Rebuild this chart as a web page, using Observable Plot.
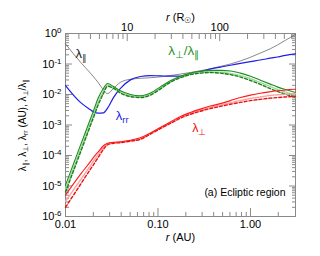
<!DOCTYPE html>
<html><head><meta charset="utf-8">
<script src="https://cdn.jsdelivr.net/npm/d3@7"></script>
<script src="https://cdn.jsdelivr.net/npm/@observablehq/plot@0.6"></script>
<style>
html,body{margin:0;padding:0;background:#fff}
svg{font-family:"Liberation Sans",Arial,Helvetica,sans-serif}
</style>
</head><body><div id="chart"></div>
<script>
// radial distance grid (AU)
const rAU = [0.01, 0.0145, 0.0186, 0.0201, 0.0227, 0.0257, 0.0285, 0.033, 0.0393, 0.0504, 0.0646, 0.0829, 0.106, 0.136, 0.175, 0.224, 0.287, 0.369, 0.473, 0.607, 0.778, 1.0, 1.28, 1.64, 1.95, 2.4, 3.07];

// parallel mean free path (AU)
const lambdaPar = [0.457, 0.115, 0.0501, 0.0380, 0.0240, 0.0141, 0.0107, 0.0158, 0.0251, 0.0316, 0.0339, 0.0355, 0.0380, 0.0417, 0.0468, 0.0525, 0.0603, 0.0692, 0.0832, 0.1, 0.126, 0.166, 0.229, 0.316, 0.417, 0.603, 0.933];
// correlation length lambda_rr (AU)
const lambdaRR = [0.0195, 0.00550, 0.00316, 0.00269, 0.00245, 0.00251, 0.00355, 0.00794, 0.0158, 0.0302, 0.0389, 0.0417, 0.0407, 0.0398, 0.0398, 0.0468, 0.0562, 0.0692, 0.0794, 0.0912, 0.105, 0.120, 0.135, 0.155, 0.170, 0.191, 0.214];
// ratio lambda_perp / lambda_par : solid, dashed, dotted
const ratioSolid = [1.07e-5, 2.14e-4, 1.58e-3, 2.95e-3, 7.94e-3, 0.0158, 0.0229, 0.0182, 0.0132, 0.0100, 0.00912, 0.0112, 0.0178, 0.0282, 0.0398, 0.0501, 0.0575, 0.0617, 0.0617, 0.0589, 0.0501, 0.0398, 0.0295, 0.0219, 0.0178, 0.0145, 0.0117];
const ratioDashed = [6.31e-6, 1.26e-4, 9.55e-4, 1.78e-3, 4.79e-3, 0.0107, 0.0186, 0.0158, 0.0112, 0.00851, 0.00794, 0.00955, 0.0151, 0.0251, 0.0355, 0.0447, 0.0501, 0.0525, 0.0501, 0.0447, 0.0372, 0.0288, 0.0214, 0.0155, 0.0126, 0.0102, 0.00832];
const ratioDotted = [7.94e-6, 1.58e-4, 1.17e-3, 2.19e-3, 5.89e-3, 0.0126, 0.0204, 0.0170, 0.0120, 0.00912, 0.00851, 0.0102, 0.0162, 0.0263, 0.0372, 0.0468, 0.0525, 0.0550, 0.0537, 0.0490, 0.0417, 0.0331, 0.0245, 0.0182, 0.0148, 0.0120, 0.00955];
// perpendicular mean free path (AU): solid, dashed, dotted
const perpSolid = [5.01e-6, 2.40e-5, 6.31e-5, 8.71e-5, 1.35e-4, 2.09e-4, 2.51e-4, 2.69e-4, 2.82e-4, 3.16e-4, 3.80e-4, 5.50e-4, 8.32e-4, 1.26e-3, 1.91e-3, 2.57e-3, 3.31e-3, 4.17e-3, 5.01e-3, 6.31e-3, 7.94e-3, 9.55e-3, 0.0110, 0.0123, 0.0132, 0.0141, 0.0148];
const perpDashed = [2.00e-6, 1.12e-5, 3.55e-5, 5.01e-5, 8.91e-5, 1.58e-4, 2.24e-4, 2.51e-4, 2.63e-4, 2.95e-4, 3.39e-4, 5.01e-4, 7.59e-4, 1.12e-3, 1.66e-3, 2.24e-3, 2.82e-3, 3.47e-3, 4.07e-3, 4.79e-3, 5.50e-3, 6.31e-3, 6.92e-3, 7.59e-3, 7.94e-3, 8.32e-3, 8.71e-3];
const perpDotted = [3.16e-6, 1.58e-5, 4.68e-5, 6.61e-5, 1.10e-4, 1.82e-4, 2.40e-4, 2.63e-4, 2.75e-4, 3.09e-4, 3.55e-4, 5.25e-4, 7.94e-4, 1.17e-3, 1.78e-3, 2.40e-3, 3.02e-3, 3.80e-3, 4.47e-3, 5.37e-3, 6.31e-3, 7.41e-3, 8.32e-3, 9.33e-3, 9.77e-3, 0.0102, 0.0107];

// ticks and tick labels
const yMajor = [1e-6, 1e-5, 1e-4, 1e-3, 1e-2, 1e-1, 1];
const yMajorLabels = ["10^{-6}", "10^{-5}", "10^{-4}", "10^{-3}", "10^{-2}", "10^{-1}", "10^{0}"];
const xMajor = [0.01, 0.1, 1];
const xMajorLabels = ["0.01", "0.10", "1.00"];
const rSunMajor = [10, 100];
const rSunMajorLabels = ["10", "100"];
const rSunMinor = [3, 4, 5, 6, 7, 8, 9, 20, 30, 40, 50, 60, 70, 80, 90, 200, 300, 400, 500, 600];
const RSUN_PER_AU = 215;

// texts
const yTitle = "λ_{∥}, λ_{⊥}, λ_{rr} (AU), λ_{⊥}/λ_{∥}";
const xTitle = "*r* (AU)";
const topTitle = "*r* (R_{☉})";
const panelNote = "(a) Ecliptic region";
// annotation labels (data coordinates)
const labels = [
  {r: 0.0148, v: 0.21, text: "λ_{∥}", color: "#222", size: 13},
  {r: 0.19, v: 0.27, text: "λ_{⊥}/λ_{∥}", color: "#2a962a", size: 13.5},
  {r: 0.041, v: 0.0020, text: "λ_{rr}", color: "#2424e6", size: 13},
  {r: 0.28, v: 8.0e-4, text: "λ_{⊥}", color: "#f01010", size: 12.5}
];

const minorOf = (majors, ks) => majors.slice(0, -1).flatMap(m => ks.map(k => k * m));
const yMinor = minorOf(yMajor, [2,3,4,5,6,7,8,9]);
const xMinor = minorOf(xMajor, [2,3,4,5,6,7,8,9]).concat([2]);

const series = [
  {vals: lambdaPar, stroke: "#555", width: 0.7, dash: null},
  {vals: lambdaRR, stroke: "#1f1fe8", width: 1.2, dash: null},
  {vals: ratioDotted, stroke: "#9ad89a", width: 1.5, dash: "1.2,1.3"},
  {vals: ratioDashed, stroke: "#1d7d1d", width: 1.4, dash: "3,2"},
  {vals: ratioSolid, stroke: "#1e8c1e", width: 1.1, dash: null},
  {vals: perpDotted, stroke: "#ffa0a0", width: 1.5, dash: "1.2,1.3"},
  {vals: perpDashed, stroke: "#e81010", width: 1.4, dash: "3,2"},
  {vals: perpSolid, stroke: "#ff1a1a", width: 1.1, dash: null}
];

const lineMarks = series.map(s => Plot.line(rAU.map((r, i) => ({r, v: s.vals[i]})), {
  x: "r", y: "v", stroke: s.stroke, strokeWidth: s.width,
  strokeDasharray: s.dash, curve: "monotone-x"
}));

const axisStroke = "#8a8a8a";
const fmtFrom = (vals, labs) => d => { const i = vals.findIndex(v => Math.abs(v - d) / d < 1e-6); return i >= 0 ? labs[i] : ""; };

const plot = Plot.plot({
  width: 320,
  height: 256,
  marginLeft: 65,
  marginRight: 25,
  marginTop: 33,
  marginBottom: 40,
  style: {fontFamily: '"Liberation Sans", Arial, sans-serif', fontSize: "11px", color: "#000", background: "#fff"},
  x: {type: "log", domain: [0.01, 3.07]},
  y: {type: "log", domain: [1e-6, 1]},
  marks: [
    Plot.frame({stroke: axisStroke}),
    // left axis
    Plot.axisY({anchor: "left", ticks: yMajor, tickSize: -7, tickFormat: () => "", stroke: axisStroke, label: null}),
    Plot.axisY({anchor: "left", ticks: yMinor, tickSize: -4, tickFormat: () => "", stroke: axisStroke, label: null}),
    Plot.axisY({anchor: "left", ticks: yMajor, tickSize: 0, tickPadding: 4, tickFormat: fmtFrom(yMajor, yMajorLabels), label: null}),
    // right axis
    Plot.axisY({anchor: "right", ticks: yMajor, tickSize: -7, tickFormat: () => "", stroke: axisStroke, label: null}),
    Plot.axisY({anchor: "right", ticks: yMinor, tickSize: -4, tickFormat: () => "", stroke: axisStroke, label: null}),
    // bottom axis
    Plot.axisX({anchor: "bottom", ticks: xMajor, tickSize: -8, tickFormat: () => "", stroke: axisStroke, label: null}),
    Plot.axisX({anchor: "bottom", ticks: xMinor, tickSize: -4, tickFormat: () => "", stroke: axisStroke, label: null}),
    Plot.axisX({anchor: "bottom", ticks: xMajor, tickSize: 0, tickPadding: 4, tickFormat: fmtFrom(xMajor, xMajorLabels), label: null}),
    // top axis in solar radii
    Plot.axisX({anchor: "top", ticks: rSunMajor.map(R => R / RSUN_PER_AU), tickSize: -7, tickFormat: () => "", stroke: axisStroke, label: null}),
    Plot.axisX({anchor: "top", ticks: rSunMinor.map(R => R / RSUN_PER_AU), tickSize: -5, tickFormat: () => "", stroke: axisStroke, label: null}),
    Plot.axisX({anchor: "top", ticks: rSunMajor.map(R => R / RSUN_PER_AU), tickSize: 0, tickPadding: 3,
      tickFormat: fmtFrom(rSunMajor.map(R => R / RSUN_PER_AU), rSunMajorLabels), label: null}),
    ...lineMarks,
    Plot.text(labels, {x: "r", y: "v", text: "text", fill: "color", fontSize: "size"}),
    Plot.text([topTitle], {frameAnchor: "top", dy: -20, fontSize: 11}),
    Plot.text([xTitle], {frameAnchor: "bottom", dy: 24, fontSize: 11}),
    Plot.text([yTitle], {frameAnchor: "left", rotate: -90, dx: -43, textAnchor: "middle", fontSize: 10}),
    Plot.text([panelNote], {frameAnchor: "bottom-right", dx: -10, dy: -21, textAnchor: "end", fontSize: 10.5})
  ]
});

// rich text: ^{sup}, _{sub}, *italic*
const NS = "http://www.w3.org/2000/svg";
plot.querySelectorAll("text").forEach(el => {
  if (el.querySelector("tspan")) return;
  const s = el.textContent;
  if (!/\^\{|_\{|\*/.test(s)) return;
  const parts = s.split(/(\^\{[^}]*\}|_\{[^}]*\}|\*[^*]*\*)/g).filter(p => p !== "");
  el.textContent = "";
  for (const p of parts) {
    const t = document.createElementNS(NS, "tspan");
    if (p.startsWith("^{")) {
      t.textContent = p.slice(2, -1);
      t.setAttribute("baseline-shift", "45%");
      t.setAttribute("font-size", "72%");
    } else if (p.startsWith("_{")) {
      t.textContent = p.slice(2, -1);
      t.setAttribute("baseline-shift", "-30%");
      t.setAttribute("font-size", "72%");
    } else if (p.startsWith("*") && p.endsWith("*") && p.length > 1) {
      t.textContent = p.slice(1, -1);
      t.setAttribute("font-style", "italic");
    } else {
      t.textContent = p;
    }
    el.appendChild(t);
  }
});

document.getElementById("chart").appendChild(plot);
</script>
</body></html>
